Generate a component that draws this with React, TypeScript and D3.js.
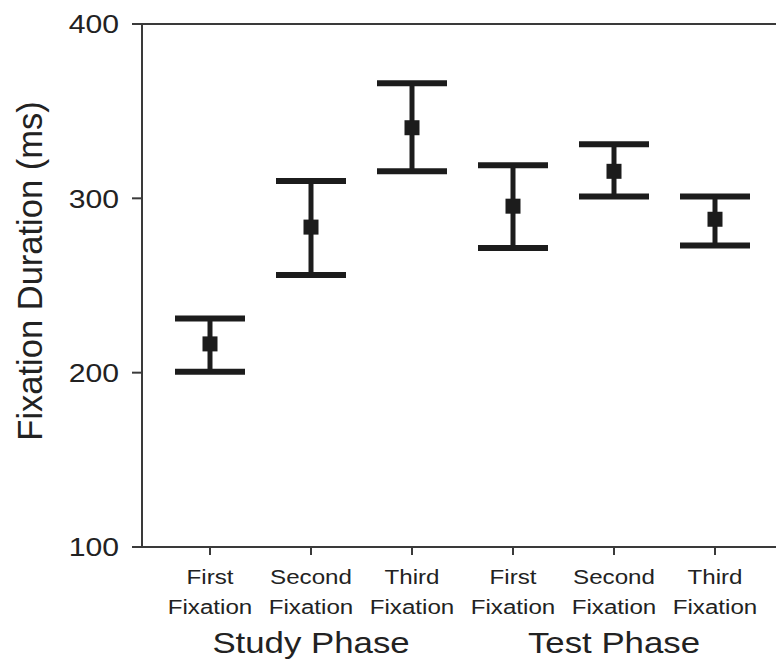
import React from 'react';
import * as d3 from 'd3';

const firstLines = ['First', 'Second', 'Third', 'First', 'Second', 'Third'];
const phases = ['Study Phase', 'Test Phase'];
const means = [216.5, 283.5, 340.5, 295.5, 315.5, 288];
const upper = [231, 310, 366, 319, 331, 301];
const lower = [200.5, 256, 315.5, 271.5, 301, 273];
const yTicks = [100, 200, 300, 400];

const width = 776;
const height = 669;
const axisX = 142;
const axisBottom = 547;
const axisTop = 24;

export default function App() {
  const y = d3.scaleLinear().domain([100, 400]).range([axisBottom, axisTop]);
  const x = d3.scalePoint<number>()
    .domain(d3.range(means.length))
    .range([210, 715]);

  const ink = '#1c1c1c';
  const axisColor = '#3a3a3a';
  const textColor = '#222';
  const font = '"Liberation Sans", Arial, sans-serif';

  // the reference type is a little wider than Arial, so stretch horizontally
  const wide = (px: number, py: number, sx: number) => `translate(${px},${py}) scale(${sx},1)`;

  return (
    <svg width={width} height={height} style={{ position: 'absolute', left: 0, top: 0, background: '#fff' }}>
      {/* top border + axes */}
      <line x1={132} x2={width} y1={axisTop} y2={axisTop} stroke={axisColor} strokeWidth={2} />
      <line x1={axisX} x2={axisX} y1={axisTop} y2={axisBottom} stroke={axisColor} strokeWidth={2} />
      <line x1={132} x2={width} y1={axisBottom} y2={axisBottom} stroke={axisColor} strokeWidth={2} />

      {yTicks.map(t => (
        <g key={t}>
          <line x1={132} x2={axisX} y1={y(t)} y2={y(t)} stroke={axisColor} strokeWidth={2} />
          <text transform={wide(119, y(t), 1.16)} dy="0.36em" textAnchor="end"
            fontFamily={font} fontSize={26} fill={textColor}>{t}</text>
        </g>
      ))}

      <text transform="translate(42,271) rotate(-90)" textAnchor="middle"
        fontFamily={font} fontSize={34.5} fill={textColor}>Fixation Duration (ms)</text>

      {means.map((m, i) => {
        const cx = x(i)!;
        return (
          <g key={i}>
            <line x1={cx} x2={cx} y1={axisBottom} y2={axisBottom + 8} stroke={axisColor} strokeWidth={2} />
            <text transform={wide(cx, 584, 1.15)} textAnchor="middle" fontFamily={font} fontSize={21} fill={textColor}>{firstLines[i]}</text>
            <text transform={wide(cx, 614, 1.15)} textAnchor="middle" fontFamily={font} fontSize={21} fill={textColor}>Fixation</text>

            <line x1={cx} x2={cx} y1={y(upper[i])} y2={y(lower[i])} stroke={ink} strokeWidth={5} />
            <line x1={cx - 35} x2={cx + 35} y1={y(upper[i])} y2={y(upper[i])} stroke={ink} strokeWidth={6} />
            <line x1={cx - 35} x2={cx + 35} y1={y(lower[i])} y2={y(lower[i])} stroke={ink} strokeWidth={6} />
            <rect x={cx - 7.5} y={y(m) - 7.5} width={15} height={15} fill={ink} />
          </g>
        );
      })}

      {phases.map((p, k) => (
        <text key={p} transform={wide(x(k * 3 + 1)!, 653, 1.2)} textAnchor="middle"
          fontFamily={font} fontSize={29} fill={textColor}>{p}</text>
      ))}
    </svg>
  );
}
